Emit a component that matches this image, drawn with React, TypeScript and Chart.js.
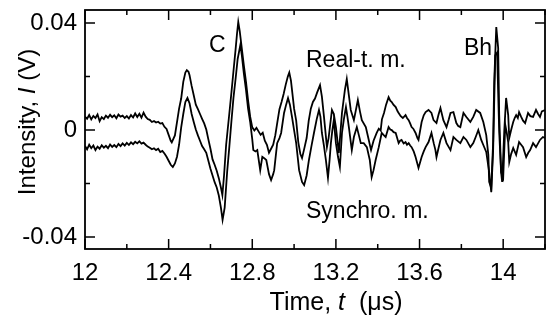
import { useEffect, useRef } from "react";
import { Chart, registerables } from "chart.js";

Chart.register(...registerables);

const FONT = "'Liberation Sans', Arial, Helvetica, sans-serif";

// ---- axis ticks ----
const xTickValues = [12, 12.2, 12.4, 12.6, 12.8, 13.0, 13.2, 13.4, 13.6, 13.8, 14.0, 14.2];
const xTickLabels = ["12", "", "12.4", "", "12.8", "", "13.2", "", "13.6", "", "14", ""];
const yTickValues = [-0.04, -0.02, 0, 0.02, 0.04];
const yTickLabels = ["-0.04", "", "0", "", "0.04"];

// ---- Real-time measurement trace (time in µs, intensity in V) ----
const realTimeT = [
  12.00, 12.01, 12.02, 12.03, 12.04, 12.05, 12.06, 12.07, 12.08, 12.09,
  12.10, 12.11, 12.12, 12.13, 12.14, 12.15, 12.16, 12.17, 12.18, 12.19,
  12.20, 12.21, 12.22, 12.23, 12.24, 12.25, 12.26, 12.27, 12.28, 12.29,
  12.30, 12.31, 12.32, 12.33, 12.34, 12.35, 12.36, 12.37, 12.38, 12.39,
  12.40, 12.41, 12.415, 12.43, 12.44, 12.45, 12.46, 12.47, 12.48, 12.487,
  12.495, 12.50, 12.51, 12.52, 12.53, 12.54, 12.55, 12.56, 12.57, 12.58,
  12.59, 12.60, 12.61, 12.62, 12.63, 12.64, 12.65, 12.657, 12.665, 12.675,
  12.69, 12.70, 12.71, 12.72, 12.727, 12.733, 12.74, 12.75, 12.76, 12.77,
  12.78, 12.79, 12.80, 12.81, 12.82, 12.83, 12.84, 12.85, 12.86, 12.87,
  12.88, 12.89, 12.90, 12.91, 12.92, 12.93, 12.94, 12.95, 12.96, 12.97,
  12.977, 12.985, 12.99, 13.00, 13.01, 13.02, 13.03, 13.038, 13.05, 13.06,
  13.07, 13.08, 13.09, 13.10, 13.11, 13.124, 13.133, 13.143, 13.157, 13.165,
  13.181, 13.19, 13.20, 13.214, 13.229, 13.243, 13.252, 13.262, 13.271, 13.286,
  13.305, 13.315, 13.324, 13.343, 13.355, 13.368, 13.38, 13.395, 13.405, 13.414,
  13.42, 13.43, 13.44, 13.452, 13.46, 13.467, 13.475, 13.486, 13.495, 13.50,
  13.51, 13.52, 13.533, 13.54, 13.548, 13.555, 13.562, 13.57, 13.581, 13.59,
  13.595, 13.61, 13.62, 13.629, 13.643, 13.657, 13.667, 13.681, 13.69, 13.70,
  13.714, 13.729, 13.74, 13.748, 13.762, 13.776, 13.785, 13.795, 13.81, 13.824,
  13.843, 13.857, 13.871, 13.89, 13.905, 13.919, 13.929, 13.933, 13.943, 13.952,
  13.957, 13.967, 13.976, 13.981, 13.99, 13.995, 14.005, 14.014, 14.024, 14.029,
  14.038, 14.048, 14.055, 14.062, 14.07, 14.076, 14.086, 14.095, 14.105, 14.112,
  14.119, 14.13, 14.143, 14.157, 14.167, 14.176, 14.185, 14.20,
];
const realTimeV = [
  0.0050, 0.0042, 0.0056, 0.0040, 0.0053, 0.0045, 0.0058, 0.0033, 0.0048, 0.0041,
  0.0054, 0.0046, 0.0057, 0.0048, 0.0055, 0.0044, 0.0058, 0.0050, 0.0054, 0.0045,
  0.0052, 0.0043, 0.0056, 0.0047, 0.0062, 0.0049, 0.0061, 0.0046, 0.0065, 0.0050,
  0.0041, 0.0038, 0.0030, 0.0034, 0.0028, 0.0031, 0.0024, 0.0026, 0.0012, 0.0004,
  -0.0018, -0.0040, -0.0046, -0.0020, 0.0030, 0.0080, 0.0118, 0.0180, 0.0215, 0.0224,
  0.0218, 0.0205, 0.0165, 0.0130, 0.0095, 0.0078, 0.0060, 0.0042, 0.0025, 0.0002,
  -0.0035, -0.0070, -0.0110, -0.0130, -0.0152, -0.0180, -0.0215, -0.0243, -0.0170, -0.0055,
  0.0060, 0.0138, 0.0220, 0.0300, 0.0360, 0.0404, 0.0370, 0.0305, 0.0240, 0.0180,
  0.0110, 0.0050, 0.0010, -0.0002, 0.0008, -0.0005, -0.0018, -0.0010, -0.0040, -0.0055,
  -0.0085, -0.0070, -0.0055, -0.0020, 0.0030, 0.0078, 0.0105, 0.0135, 0.0170, 0.0200,
  0.0215, 0.0185, 0.0150, 0.0080, 0.0035, -0.0045, -0.0090, -0.0105, -0.0065, -0.0030,
  0.0035, 0.0080, 0.0105, 0.0118, 0.0140, 0.0168, 0.0125, 0.0049, -0.0064, -0.0030,
  0.0075, 0.0060, 0.0011, -0.0086, 0.0064, 0.0150, 0.0191, 0.0130, 0.0075, 0.0037,
  0.0112, 0.0070, 0.0037, 0.0011, -0.0030, -0.0075, -0.0040, -0.0011, 0.0005, -0.0002,
  0.0040, 0.0064, 0.0095, 0.0123, 0.0110, 0.0105, 0.0095, 0.0086, 0.0070, 0.0064,
  0.0052, 0.0045, 0.0056, 0.0045, 0.0037, 0.0025, 0.0011, 0.0005, -0.0011, -0.0030,
  -0.0037, 0.0030, 0.0055, 0.0067, 0.0075, 0.0064, 0.0037, 0.0026, 0.0055, 0.0082,
  0.0037, 0.0011, 0.0040, 0.0064, 0.0067, 0.0026, 0.0015, 0.0011, 0.0064, 0.0049,
  0.0030, 0.0049, 0.0075, 0.0064, 0.0030, -0.0019, -0.0093, -0.0194, -0.0217, -0.0045,
  0.0179, 0.0385, 0.0307, 0.0056, -0.0157, -0.0194, -0.0007, 0.0120, 0.0056, -0.0030,
  0.0000, 0.0030, 0.0045, 0.0056, 0.0045, 0.0067, 0.0049, 0.0035, 0.0026, 0.0045,
  0.0064, 0.0052, 0.0049, 0.0075, 0.0060, 0.0049, 0.0070, 0.0075,
];

// ---- Synchronized measurement trace ----
const synchroT = [
  12.00, 12.01, 12.02, 12.03, 12.04, 12.05, 12.06, 12.07, 12.08, 12.09,
  12.10, 12.11, 12.12, 12.13, 12.14, 12.15, 12.16, 12.17, 12.18, 12.19,
  12.20, 12.21, 12.22, 12.23, 12.24, 12.25, 12.26, 12.27, 12.28, 12.29,
  12.30, 12.31, 12.32, 12.33, 12.34, 12.35, 12.36, 12.37, 12.38, 12.39,
  12.40, 12.41, 12.42, 12.43, 12.44, 12.45, 12.46, 12.47, 12.48, 12.49,
  12.50, 12.51, 12.52, 12.53, 12.54, 12.55, 12.56, 12.57, 12.58, 12.59,
  12.60, 12.61, 12.62, 12.63, 12.64, 12.65, 12.658, 12.668, 12.68, 12.69,
  12.70, 12.71, 12.72, 12.73, 12.743, 12.75, 12.76, 12.77, 12.78, 12.79,
  12.80, 12.805, 12.815, 12.824, 12.838, 12.848, 12.857, 12.867, 12.88, 12.89,
  12.90, 12.905, 12.919, 12.93, 12.938, 12.952, 12.962, 12.971, 12.98, 12.99,
  13.00, 13.01, 13.024, 13.038, 13.048, 13.06, 13.071, 13.083, 13.095, 13.108,
  13.119, 13.126, 13.133, 13.143, 13.152, 13.162, 13.17, 13.176, 13.183, 13.19,
  13.20, 13.21, 13.219, 13.229, 13.238, 13.248, 13.255, 13.262, 13.276, 13.286,
  13.30, 13.31, 13.319, 13.333, 13.348, 13.362, 13.371, 13.38, 13.39, 13.405,
  13.419, 13.43, 13.438, 13.452, 13.46, 13.467, 13.476, 13.486, 13.493, 13.50,
  13.507, 13.514, 13.524, 13.533, 13.54, 13.548, 13.555, 13.562, 13.572, 13.581,
  13.595, 13.61, 13.62, 13.629, 13.643, 13.657, 13.668, 13.676, 13.681, 13.69,
  13.70, 13.714, 13.729, 13.748, 13.762, 13.776, 13.795, 13.81, 13.824, 13.843,
  13.857, 13.869, 13.881, 13.895, 13.905, 13.919, 13.933, 13.943, 13.952, 13.962,
  13.971, 13.981, 13.99, 14.00, 14.01, 14.017, 14.024, 14.029, 14.038, 14.048,
  14.062, 14.076, 14.086, 14.095, 14.11, 14.12, 14.129, 14.143, 14.157, 14.176,
  14.19, 14.20,
];
const synchroV = [
  -0.0060, -0.0072, -0.0055, -0.0068, -0.0058, -0.0075, -0.0062, -0.0070, -0.0057, -0.0066,
  -0.0059, -0.0068, -0.0054, -0.0063, -0.0056, -0.0064, -0.0052, -0.0060, -0.0050, -0.0058,
  -0.0048, -0.0056, -0.0046, -0.0053, -0.0044, -0.0050, -0.0042, -0.0051, -0.0047, -0.0055,
  -0.0062, -0.0066, -0.0072, -0.0068, -0.0075, -0.0070, -0.0082, -0.0078, -0.0088, -0.0100,
  -0.0115, -0.0130, -0.0138, -0.0125, -0.0100, -0.0055, 0.0010, 0.0060, 0.0105, 0.0120,
  0.0100, 0.0060, 0.0030, 0.0002, -0.0020, -0.0040, -0.0060, -0.0072, -0.0085, -0.0115,
  -0.0145, -0.0170, -0.0195, -0.0215, -0.0245, -0.0290, -0.0336, -0.0290, -0.0155, -0.0065,
  0.0030, 0.0120, 0.0190, 0.0265, 0.0318, 0.0280, 0.0210, 0.0150, 0.0080, 0.0030,
  -0.0035, -0.0075, -0.0080, -0.0075, -0.0150, -0.0100, -0.0105, -0.0112, -0.0165, -0.0187,
  -0.0165, -0.0150, -0.0049, -0.0030, -0.0011, 0.0064, 0.0095, 0.0120, 0.0095, 0.0049,
  0.0000, -0.0049, -0.0150, -0.0194, -0.0206, -0.0170, -0.0112, -0.0060, -0.0011, 0.0040,
  0.0075, 0.0050, -0.0011, -0.0060, -0.0112, -0.0179, -0.0110, -0.0049, 0.0000, 0.0037,
  -0.0049, -0.0100, -0.0138, -0.0011, 0.0040, 0.0086, 0.0050, 0.0011, -0.0075, -0.0026,
  0.0011, -0.0020, -0.0049, -0.0049, -0.0064, -0.0112, -0.0176, -0.0150, -0.0112, -0.0064,
  -0.0011, -0.0020, -0.0026, 0.0011, 0.0002, 0.0000, -0.0008, -0.0011, -0.0030, -0.0049,
  -0.0040, -0.0037, -0.0050, -0.0045, -0.0055, -0.0049, -0.0058, -0.0064, -0.0080, -0.0101,
  -0.0142, -0.0101, -0.0080, -0.0064, -0.0045, -0.0011, -0.0050, -0.0075, -0.0101, -0.0070,
  -0.0037, -0.0011, -0.0049, -0.0075, -0.0026, -0.0037, -0.0049, -0.0026, -0.0037, -0.0064,
  -0.0049, -0.0025, 0.0000, -0.0037, -0.0056, -0.0082, -0.0157, -0.0232, -0.0075, 0.0280,
  0.0290, -0.0007, -0.0157, -0.0179, 0.0019, -0.0010, -0.0045, -0.0120, -0.0090, -0.0067,
  -0.0093, -0.0045, -0.0055, -0.0064, -0.0101, -0.0085, -0.0075, -0.0049, -0.0064, -0.0037,
  -0.0026, -0.0030,
];

type Part = [string, boolean];

function drawRich(ctx: CanvasRenderingContext2D, parts: Part[], cx: number, baseline: number, size: number) {
  let w = 0;
  for (const [s, it] of parts) {
    ctx.font = `${it ? "italic " : ""}${size}px ${FONT}`;
    w += ctx.measureText(s).width;
  }
  let xx = cx - w / 2;
  ctx.textAlign = "left";
  ctx.textBaseline = "alphabetic";
  for (const [s, it] of parts) {
    ctx.font = `${it ? "italic " : ""}${size}px ${FONT}`;
    ctx.fillText(s, xx, baseline);
    xx += ctx.measureText(s).width;
  }
}

const framePlugin = {
  id: "framePlugin",
  afterDraw(chart: any) {
    const { ctx, chartArea: a, scales } = chart;
    const x = scales.x;
    const y = scales.y;
    ctx.save();
    ctx.strokeStyle = "#000";
    ctx.fillStyle = "#000";
    ctx.lineWidth = 1.8;
    ctx.strokeRect(a.left, a.top, a.right - a.left, a.bottom - a.top);
    ctx.beginPath();
    xTickValues.forEach((v, i) => {
      const px = x.getPixelForValue(v);
      const L = xTickLabels[i] ? 10 : 5;
      ctx.moveTo(px, a.bottom);
      ctx.lineTo(px, a.bottom - L);
      ctx.moveTo(px, a.top);
      ctx.lineTo(px, a.top + L);
    });
    yTickValues.forEach((v, i) => {
      const py = y.getPixelForValue(v);
      const L = yTickLabels[i] ? 10 : 5;
      ctx.moveTo(a.left, py);
      ctx.lineTo(a.left + L, py);
      ctx.moveTo(a.right, py);
      ctx.lineTo(a.right - L, py);
    });
    ctx.lineWidth = 1.5;
    ctx.stroke();

    // axis titles
    drawRich(ctx, [["Time, ", false], ["t", true], ["  (μs)", false]], 336, 310, 25);
    ctx.save();
    ctx.translate(35, 122);
    ctx.rotate(-Math.PI / 2);
    drawRich(ctx, [["Intensity, ", false], ["I", true], [" (V)", false]], 0, 0, 24);
    ctx.restore();

    // annotations
    ctx.font = `23px ${FONT}`;
    ctx.textAlign = "left";
    ctx.textBaseline = "alphabetic";
    ctx.fillText("C", 209, 52);
    ctx.fillText("Real-t. m.", 306, 67);
    ctx.fillText("Bh", 464, 55);
    ctx.fillText("Synchro. m.", 306, 218);
    ctx.restore();
  },
};

export default function App() {
  const ref = useRef<HTMLCanvasElement>(null);
  useEffect(() => {
    const canvas = ref.current;
    if (!canvas) return;
    const chart = new Chart(canvas, {
      type: "line",
      data: {
        datasets: [
          {
            label: "Real-t. m.",
            data: realTimeT.map((t, i) => ({ x: t, y: realTimeV[i] })),
            borderColor: "#000",
            borderWidth: 1.8,
            pointRadius: 0,
            tension: 0,
            fill: false,
          },
          {
            label: "Synchro. m.",
            data: synchroT.map((t, i) => ({ x: t, y: synchroV[i] })),
            borderColor: "#000",
            borderWidth: 1.8,
            pointRadius: 0,
            tension: 0,
            fill: false,
          },
        ],
      },
      options: {
        responsive: false,
        animation: false,
        devicePixelRatio: 1,
        layout: { padding: { left: 0, right: 3, top: 10, bottom: 0 } },
        plugins: { legend: { display: false }, tooltip: { enabled: false } },
        scales: {
          x: {
            type: "linear",
            min: 12,
            max: 14.2,
            afterBuildTicks: (s: any) => {
              s.ticks = xTickValues.map((v) => ({ value: v }));
            },
            afterFit: (s: any) => {
              s.height = 75;
              s.paddingLeft = 0;
              s.paddingRight = 0;
              s.paddingTop = 0;
              s.paddingBottom = 0;
            },
            grid: { display: false, drawTicks: false },
            border: { display: false },
            ticks: {
              autoSkip: false,
              maxRotation: 0,
              padding: 10,
              color: "#000",
              font: { family: FONT, size: 24 },
              callback: (_v: any, i: number) => xTickLabels[i],
            },
          },
          y: {
            type: "linear",
            min: -0.0445,
            max: 0.0449,
            afterBuildTicks: (s: any) => {
              s.ticks = yTickValues.map((v) => ({ value: v }));
            },
            afterFit: (s: any) => {
              s.width = 85;
              s.paddingLeft = 0;
              s.paddingRight = 0;
              s.paddingTop = 0;
              s.paddingBottom = 0;
            },
            grid: { display: false, drawTicks: false },
            border: { display: false },
            ticks: {
              autoSkip: false,
              padding: 8,
              color: "#000",
              font: { family: FONT, size: 24 },
              callback: (_v: any, i: number) => yTickLabels[i],
            },
          },
        },
      },
      plugins: [framePlugin],
    } as any);
    return () => chart.destroy();
  }, []);
  return (
    <div style={{ position: "fixed", left: 0, top: 0, width: 548, height: 324, background: "#fff" }}>
      <canvas ref={ref} width={548} height={324} style={{ width: 548, height: 324, display: "block" }} />
    </div>
  );
}
